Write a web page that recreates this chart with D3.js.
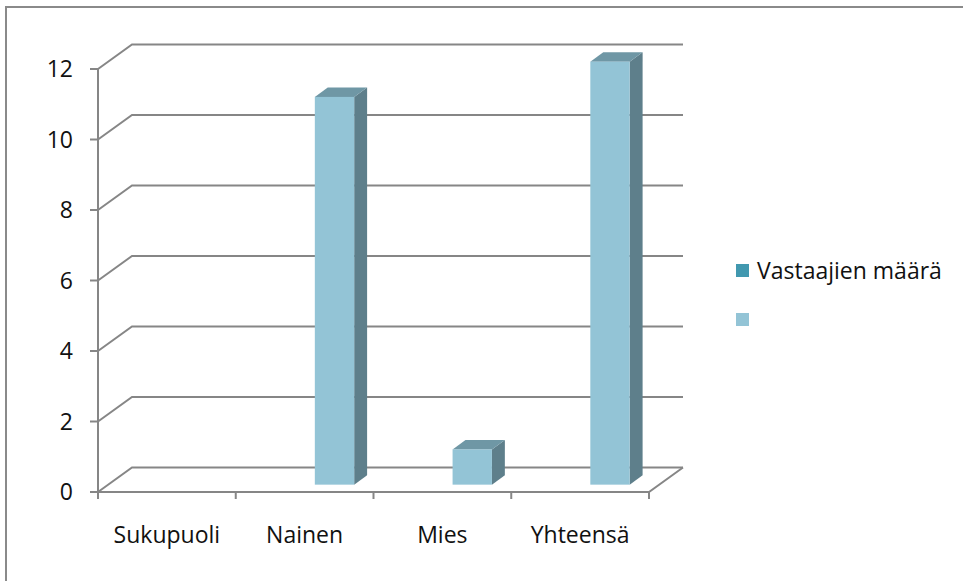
<!DOCTYPE html>
<html>
<head>
<meta charset="utf-8">
<script src="https://cdn.jsdelivr.net/npm/d3@7"></script>
<style>
  body { margin: 0; background: #fff; }
  text { font-family: "Open Sans", Lato, sans-serif; fill: #111; }
</style>
</head>
<body>
<div id="chart"></div>
<script>
const width = 963
const height = 581

// data
const categories = ["Sukupuoli", "Nainen", "Mies", "Yhteensä"]
const seriesNames = ["Vastaajien määrä", ""]
const seriesA = [null, null, null, null]   // Vastaajien määrä (empty)
const seriesB = [null, 11, 1, 12]
const yTicks = [0, 2, 4, 6, 8, 10, 12]

const seriesColors = ["#4198AF", "#93C4D6"]
const gridColor = "#868686"
const fontSize = 23

// 3d depth of floor / walls
const depth = { dx: 34, dy: -24.5 }
const barDepth = { f0: 0.30, f1: 0.68 }

const plot = { left: 98, right: 649, top: 69, bottom: 492 }

const svg = d3.select("#chart")
    .append("svg")
    .attr("width", width)
    .attr("height", height)

// chart border
svg.append("rect")
    .attr("x", 6).attr("y", 7)
    .attr("width", width + 10).attr("height", height + 10)
    .attr("fill", "none")
    .attr("stroke", "#8a8a8a")
    .attr("stroke-width", 2)

const y = d3.scaleLinear().domain([0, 12]).range([plot.bottom, plot.top])
const x = d3.scaleBand().domain(categories).range([plot.left, plot.right])
const xs = d3.scaleBand().domain(d3.range(seriesNames.length))
    .range([0, x.bandwidth()]).paddingInner(0).paddingOuter(0.75)

const grid = svg.append("g").attr("id", "grid")
    .attr("stroke", gridColor).attr("stroke-width", 2).attr("fill", "none")

// back wall gridlines with left wall diagonals
grid.selectAll("path.gl")
    .data(yTicks)
    .join("path")
    .attr("class", "gl")
    .attr("d", t => `M${plot.left},${y(t)} L${plot.left + depth.dx},${y(t) + depth.dy} L${plot.right + depth.dx},${y(t) + depth.dy}`)

// floor front + right edge
grid.append("path")
    .attr("d", `M${plot.left},${y(0)} L${plot.right},${y(0)} L${plot.right + depth.dx},${y(0) + depth.dy}`)

// y axis
grid.append("line")
    .attr("x1", plot.left).attr("x2", plot.left)
    .attr("y1", y(12)).attr("y2", y(0))

grid.selectAll("line.ytick")
    .data(yTicks)
    .join("line")
    .attr("class", "ytick")
    .attr("x1", plot.left - 8).attr("x2", plot.left)
    .attr("y1", d => y(d)).attr("y2", d => y(d))

// x ticks at category boundaries
const bounds = categories.map(c => x(c)).concat([plot.right])
grid.selectAll("line.xtick")
    .data(bounds)
    .join("line")
    .attr("class", "xtick")
    .attr("x1", d => d).attr("x2", d => d)
    .attr("y1", y(0)).attr("y2", y(0) + 7)

// tick labels
svg.append("g").selectAll("text")
    .data(yTicks)
    .join("text")
    .attr("x", 73)
    .attr("y", d => y(d))
    .attr("dy", "0.36em")
    .attr("text-anchor", "end")
    .attr("font-size", fontSize)
    .text(d => d)

svg.append("g").selectAll("text")
    .data(categories)
    .join("text")
    .attr("x", d => x(d) + x.bandwidth() / 2)
    .attr("y", 543)
    .attr("text-anchor", "middle")
    .attr("font-size", fontSize)
    .text(d => d)

// bars
const bars = []
;[seriesA, seriesB].forEach((vals, s) => {
    vals.forEach((v, i) => {
        if (v != null) bars.push({ cat: categories[i], s: s, v: v })
    })
})

const fdx = depth.dx * barDepth.f0, fdy = depth.dy * barDepth.f0
const bdx = depth.dx * (barDepth.f1 - barDepth.f0), bdy = depth.dy * (barDepth.f1 - barDepth.f0)

const barGroup = svg.append("g").attr("id", "bars")
bars.forEach(d => {
    const x0 = x(d.cat) + xs(d.s) + fdx
    const x1 = x0 + xs.bandwidth()
    const yt = y(d.v) + fdy
    const yb = y(0) + fdy
    const g = barGroup.append("g")
    const front = d.s === 1 ? "#93C4D6" : "#4198AF"
    const side = d.s === 1 ? "#5E7F8B" : "#2A6372"
    const top = d.s === 1 ? "#6F97A5" : "#357C8F"
    g.append("path")
        .attr("d", `M${x1},${yb} L${x1 + bdx},${yb + bdy} L${x1 + bdx},${yt + bdy} L${x1},${yt}Z`)
        .attr("fill", side)
    g.append("path")
        .attr("d", `M${x0},${yt} L${x1},${yt} L${x1 + bdx},${yt + bdy} L${x0 + bdx},${yt + bdy}Z`)
        .attr("fill", top)
    g.append("rect")
        .attr("x", x0).attr("y", yt)
        .attr("width", x1 - x0).attr("height", yb - yt)
        .attr("fill", front)
})

// legend
const legend = svg.append("g").attr("id", "legend")
const legendY = [271, 320]
seriesNames.forEach((name, i) => {
    legend.append("rect")
        .attr("x", 736).attr("y", legendY[i] - 7)
        .attr("width", 13).attr("height", 13)
        .attr("fill", seriesColors[i])
    legend.append("text")
        .attr("x", 757).attr("y", legendY[i])
        .attr("dy", "0.36em")
        .attr("font-size", fontSize)
        .text(name)
})
</script>
</body>
</html>
